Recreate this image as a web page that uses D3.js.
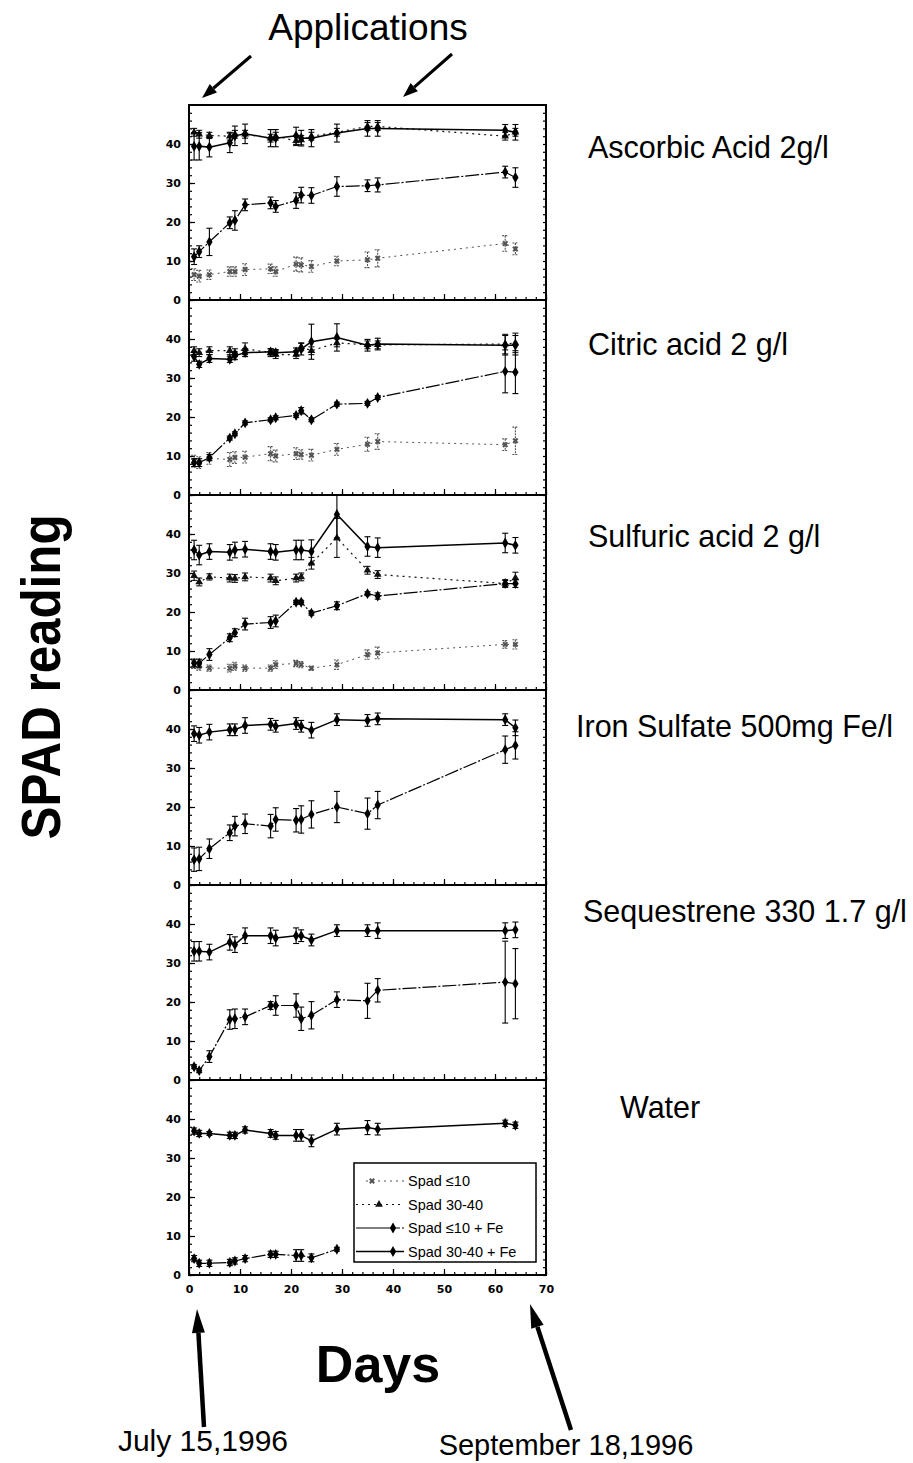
<!DOCTYPE html>
<html>
<head>
<meta charset="utf-8">
<script src="https://cdn.jsdelivr.net/npm/d3@7"></script>
<style>
  body { margin: 0; background: #fff; }
  svg { display: block; font-family: "Liberation Sans", Arial, sans-serif; }
  .axis text { font-family: "DejaVu Sans", sans-serif; font-weight: bold; font-size: 11px; fill: #000; }
  .axis line { stroke: #000; stroke-width: 1.2; }
  .axis path { display: none; }
</style>
</head>
<body>
<svg id="chart" width="913" height="1463"></svg>
<script>
// sampling days (days after July 15, 1996)
const days = [1, 2, 4, 8, 9, 11, 16, 17, 21, 22, 24, 29, 35, 37, 62, 64];

const panelTitles = ['Ascorbic Acid 2g/l', 'Citric acid 2 g/l', 'Sulfuric acid 2 g/l',
                     'Iron Sulfate 500mg Fe/l', 'Sequestrene 330 1.7 g/l', 'Water'];
const xTicks = [0, 10, 20, 30, 40, 50, 60, 70];
const yTicks = [0, 10, 20, 30, 40];
const legendLabels = ['Spad \u226410', 'Spad 30-40', 'Spad \u226410 + Fe', 'Spad 30-40 + Fe'];

// Ascorbic acid
const ascorbicLow      = [6.5, 6.1, 6.5, 7.3, 7.3, 7.8, 8.0, 7.3, 9.2, 9.0, 8.6, 10.0, 10.3, 10.7, 14.5, 13.1];
const ascorbicLowErr   = [1.5, 1.5, 1.2, 1.2, 1.2, 1.5, 1.2, 1.2, 1.8, 1.8, 1.5, 1.2, 2, 2.2, 2, 1.5];
const ascorbicHigh     = [43, 42.5, 42.2, 42, 42.5, 42.5, 41.5, 42, 40.8, 41, 42, 43, 44.5, 44.5, 42, 43];
const ascorbicHighErr  = [1, 1, 0.8, 1, 1, 1, 1, 1, 1.2, 1.2, 1, 1, 1, 1, 1, 1];
const ascorbicLowFe    = [11.1, 12.4, 14.9, 19.8, 20.4, 24.4, 24.9, 24.0, 25.5, 26.9, 26.8, 29.1, 29.3, 29.5, 32.8, 31.4];
const ascorbicLowFeErr = [2, 1.5, 3.5, 1.5, 2.5, 1.5, 1.5, 1.5, 2, 2, 2, 2.5, 1.5, 1.8, 1.5, 2.5];
const ascorbicHighFe   = [39.4, 39.4, 39.2, 40.3, 42.1, 42.6, 41.5, 41.5, 42.1, 41.5, 41.5, 42.8, 44, 44, 43.5, 43];
const ascorbicHighFeErr = [3.5, 3.5, 2.5, 2.5, 2.5, 2.5, 2.2, 2.2, 2.2, 2, 2.2, 2.3, 2, 2, 1.5, 2];

// Citric acid
const citricLow      = [8.7, 8.3, 9.4, 9.1, 9.6, 9.7, 10.6, 10.0, 10.6, 10.4, 10.2, 11.7, 13.0, 13.7, 12.9, 13.9];
const citricLowErr   = [1.5, 1.5, 1.5, 1.8, 1.5, 1.5, 1.8, 1.5, 1.5, 1.2, 1.5, 1.5, 1.8, 2, 1.5, 3.5];
const citricHigh     = [37, 36.5, 37, 37, 36.5, 37.5, 36.5, 36, 36, 38, 37, 39, 38.5, 38.5, 38.7, 39];
const citricHighErr  = [1, 1, 1, 1, 1, 1.5, 1, 1, 1, 1, 1, 1, 1, 1, 2.5, 2.5];
const citricLowFe    = [8.3, 8.3, 9.6, 14.6, 15.7, 18.5, 19.3, 19.8, 20.4, 21.6, 19.3, 23.3, 23.5, 25, 31.7, 31.5];
const citricLowFeErr = [1, 1, 0.8, 0.5, 0.5, 0.5, 0.5, 0.5, 0.5, 0.8, 0.5, 0.5, 0.5, 0.5, 5.5, 5.5];
const citricHighFe   = [35.5, 33.5, 35, 34.8, 35.7, 36.5, 36.7, 36.5, 36.7, 37.4, 39.3, 40.4, 38.4, 38.7, 38.4, 38.4];
const citricHighFeErr = [1.2, 0.8, 1, 0.8, 1, 1, 0.8, 0.8, 1, 1.5, 4.5, 3.5, 1.5, 1.5, 2.5, 2.5];

// Sulfuric acid
const sulfuricLow      = [6.5, 6.1, 5.6, 5.6, 6.1, 5.6, 5.6, 6.5, 6.8, 6.5, 5.6, 6.5, 9.1, 9.5, 11.7, 11.7];
const sulfuricLowErr   = [1, 1, 0.8, 1, 1, 0.8, 0.8, 1, 0.8, 0.8, 0.5, 1.2, 1.2, 1.5, 1, 1.2];
const sulfuricHigh     = [29.3, 27.7, 29, 28.7, 28.6, 29, 28.7, 28, 28.7, 29, 32.5, 39, 30.7, 29.6, 27.3, 28.7];
const sulfuricHighErr  = [1.2, 1, 0.8, 1, 1, 1, 1, 1, 1, 1, 1.5, 5, 1, 1, 1, 1.5];
const sulfuricLowFe    = [6.9, 6.9, 9.1, 13.4, 14.7, 16.9, 17.3, 17.7, 22.5, 22.5, 19.7, 21.6, 24.7, 24.1, 27.3, 27.3];
const sulfuricLowFeErr = [1, 1, 1.5, 1, 1, 1.5, 1.5, 1.5, 0.5, 0.5, 0.5, 1, 0.5, 0.8, 0.8, 1];
const sulfuricHighFe   = [35.9, 34.6, 35.5, 35.3, 35.9, 36.1, 35.5, 35.3, 35.9, 35.9, 35.5, 45, 36.8, 36.5, 37.7, 37.1];
const sulfuricHighFeErr = [2.5, 2.5, 2, 2, 2, 2, 2, 2, 2.5, 2.5, 3, 6, 2.5, 2.5, 2.5, 2];

// Iron sulfate
const ironLowFe    = [6.5, 6.7, 9.3, 13.4, 15.1, 15.7, 15.1, 16.8, 16.6, 16.8, 18.1, 20, 18.3, 20.5, 34.7, 35.8];
const ironLowFeErr = [3, 3, 2.5, 2, 2.5, 2.5, 3, 3, 3, 3.5, 3.5, 4, 4, 3.5, 3.5, 3.5];
const ironHighFe   = [38.8, 38.4, 39.2, 39.8, 39.8, 40.9, 41.2, 40.7, 41.4, 40.7, 39.7, 42.4, 42.2, 42.6, 42.4, 40.3];
const ironHighFeErr = [2, 2, 2, 1.5, 1.5, 2, 1.5, 1.5, 1.5, 1.5, 2, 1.5, 1.5, 1.5, 1.5, 2];

// Sequestrene 330
const seqLowFe    = [3.4, 2.4, 6, 15.5, 15.7, 16.2, 19.1, 19.1, 19.1, 15.7, 16.6, 20.6, 20.3, 23, 25.1, 24.7];
const seqLowFeErr = [0.5, 0.5, 1.5, 2.5, 2.5, 2, 1, 2.5, 3, 3, 3.5, 2, 4.5, 3, 10.5, 9];
const seqHighFe   = [33, 33, 32.8, 35.3, 34.7, 37, 37, 36.4, 37, 37, 35.9, 38.3, 38.3, 38.3, 38.3, 38.5];
const seqHighFeErr = [2.5, 2.5, 2, 2, 2, 2, 2, 2, 2, 1.5, 1.5, 1.5, 1.5, 2, 2, 2];

// Water
const waterLowFe    = [4.2, 3, 3, 3.2, 3.6, 4.2, 5.3, 5.3, 5, 5, 4.4, 6.6, null, null, null, null];
const waterLowFeErr = [0.8, 0.8, 0.8, 0.8, 0.8, 0.8, 0.8, 0.8, 1.5, 1.5, 1, 0.5, 0, 0, 0, 0];
const waterHighFe   = [36.9, 36.3, 36.3, 35.8, 35.8, 37.2, 36.3, 35.8, 35.8, 35.8, 34.4, 37.4, 37.8, 37.4, 38.9, 38.4];
const waterHighFeErr = [0.8, 0.8, 0.5, 0.8, 0.8, 0.8, 1, 1, 1.5, 1.5, 1.5, 1.5, 1.8, 1.5, 0.8, 0.8];

const panels = [
  { title: panelTitles[0], low: [ascorbicLow, ascorbicLowErr], high: [ascorbicHigh, ascorbicHighErr],
    lowFe: [ascorbicLowFe, ascorbicLowFeErr], highFe: [ascorbicHighFe, ascorbicHighFeErr] },
  { title: panelTitles[1], low: [citricLow, citricLowErr], high: [citricHigh, citricHighErr],
    lowFe: [citricLowFe, citricLowFeErr], highFe: [citricHighFe, citricHighFeErr] },
  { title: panelTitles[2], low: [sulfuricLow, sulfuricLowErr], high: [sulfuricHigh, sulfuricHighErr],
    lowFe: [sulfuricLowFe, sulfuricLowFeErr], highFe: [sulfuricHighFe, sulfuricHighFeErr] },
  { title: panelTitles[3], lowFe: [ironLowFe, ironLowFeErr], highFe: [ironHighFe, ironHighFeErr] },
  { title: panelTitles[4], lowFe: [seqLowFe, seqLowFeErr], highFe: [seqHighFe, seqHighFeErr] },
  { title: panelTitles[5], lowFe: [waterLowFe, waterLowFeErr], highFe: [waterHighFe, waterHighFeErr] }
];

const titlePos = [[588, 158], [588, 355], [588, 547], [576, 737], [583, 922], [620, 1118]];

const styles = {
  low:    { dash: '2,4', color: '#555', width: 1, symbol: 'x' },
  high:   { dash: '2,4', color: '#111', width: 1.2, symbol: 'tri' },
  lowFe:  { dash: '14,2,2,2', color: '#000', width: 1.2, symbol: 'dia' },
  highFe: { dash: null, color: '#000', width: 1.5, symbol: 'dia' }
};

const plotLeft = 189, plotRight = 546;
const panelTop = 105, panelHeight = 195;

const x = d3.scaleLinear([0, 70], [plotLeft, plotRight]);
const y = d3.scaleLinear([0, 50], [panelHeight, 0]);

const svg = d3.select('#chart');

function drawMarker(g, kind, cx, cy, color) {
  if (kind === 'x') {
    g.append('path')
     .attr('d', d3.symbol(d3.symbolCross, 22)())
     .attr('transform', `translate(${cx},${cy}) rotate(45)`)
     .attr('fill', color);
  } else if (kind === 'tri') {
    g.append('path')
     .attr('d', d3.symbol(d3.symbolTriangle, 26)())
     .attr('transform', `translate(${cx},${cy})`)
     .attr('fill', color);
  } else {
    g.append('path')
     .attr('d', d3.symbol(d3.symbolDiamond, 34)())
     .attr('transform', `translate(${cx},${cy})`)
     .attr('fill', color);
  }
}

function drawSeries(g, key, vals, errs) {
  let st = styles[key];
  let pts = days.map((d, i) => ({ day: d, v: vals[i], e: errs[i] }))
                .filter(p => p.v != null);

  let line = d3.line().x(p => x(p.day)).y(p => y(p.v));
  g.append('path')
   .datum(pts)
   .attr('d', line)
   .attr('fill', 'none')
   .attr('stroke', st.color)
   .attr('stroke-width', st.width)
   .attr('stroke-dasharray', st.dash);

  // error bars
  let bars = g.append('g')
              .attr('stroke', st.color)
              .attr('stroke-width', 1.1)
              .attr('stroke-dasharray', key === 'low' ? '2,1' : null);
  pts.forEach(p => {
    let top = Math.max(0, y(p.v + p.e)), bot = y(p.v - p.e);
    bars.append('line').attr('x1', x(p.day)).attr('x2', x(p.day)).attr('y1', top).attr('y2', bot);
    bars.append('line').attr('x1', x(p.day) - 3).attr('x2', x(p.day) + 3).attr('y1', top).attr('y2', top);
    bars.append('line').attr('x1', x(p.day) - 3).attr('x2', x(p.day) + 3).attr('y1', bot).attr('y2', bot);
  });

  pts.forEach(p => drawMarker(g, st.symbol, x(p.day), y(p.v), st.color));
}

panels.forEach((panel, i) => {
  let g = svg.append('g')
             .attr('transform', `translate(0,${panelTop + i * panelHeight})`);

  // minor and major ticks, inward
  g.append('g')
   .attr('class', 'axis')
   .attr('transform', `translate(${plotLeft},0)`)
   .call(d3.axisLeft(y).tickValues(d3.range(0, 50, 2)).tickSize(-3).tickFormat(''));
  g.append('g')
   .attr('class', 'axis')
   .attr('transform', `translate(${plotLeft},0)`)
   .call(d3.axisLeft(y).tickValues(yTicks).tickSize(-6).tickPadding(8));
  g.append('g')
   .attr('class', 'axis')
   .attr('transform', `translate(${plotRight},0)`)
   .call(d3.axisRight(y).tickValues(d3.range(0, 50, 2)).tickSize(-3).tickFormat(''));
  g.append('g')
   .attr('class', 'axis')
   .attr('transform', `translate(0,${panelHeight})`)
   .call(d3.axisBottom(x).tickValues(d3.range(0, 71, 2)).tickSize(-3).tickFormat(''));
  g.append('g')
   .attr('class', 'axis')
   .attr('transform', `translate(0,${panelHeight})`)
   .call(d3.axisBottom(x).tickValues(xTicks).tickSize(-6).tickPadding(10)
                         .tickFormat(i === panels.length - 1 ? d3.format('d') : ''));

  let clipId = 'clip' + i;
  g.append('clipPath').attr('id', clipId)
   .append('rect').attr('x', plotLeft).attr('y', 0)
   .attr('width', plotRight - plotLeft).attr('height', panelHeight);

  let plot = g.append('g').attr('clip-path', `url(#${clipId})`);
  ['low', 'high', 'lowFe', 'highFe'].forEach(key => {
    if (panel[key]) drawSeries(plot, key, panel[key][0], panel[key][1]);
  });

  g.append('rect')
   .attr('x', plotLeft).attr('y', 0)
   .attr('width', plotRight - plotLeft).attr('height', panelHeight)
   .attr('fill', 'none').attr('stroke', '#000').attr('stroke-width', 2);

  svg.append('text')
     .attr('x', titlePos[i][0]).attr('y', titlePos[i][1])
     .attr('font-size', 30.5)
     .text(panel.title);
});

// legend in the water panel
const legend = svg.append('g').attr('transform', 'translate(354,1163)');
legend.append('rect')
      .attr('width', 182).attr('height', 99)
      .attr('fill', '#fff').attr('stroke', '#000').attr('stroke-width', 1.5);
const legendKeys = ['low', 'high', 'lowFe', 'highFe'];
legendKeys.forEach((key, i) => {
  let st = styles[key];
  let cy = 18 + i * 23.5;
  if (key === 'lowFe') {
    legend.append('line').attr('x1', 2).attr('x2', 38).attr('y1', cy).attr('y2', cy)
          .attr('stroke', '#000').attr('stroke-width', 1.2);
    legend.append('line').attr('x1', 42).attr('x2', 50).attr('y1', cy).attr('y2', cy)
          .attr('stroke', '#000').attr('stroke-width', 1.2).attr('stroke-dasharray', '4,2');
  } else {
    legend.append('line').attr('x1', key === 'low' ? 12 : 2).attr('x2', 50).attr('y1', cy).attr('y2', cy)
          .attr('stroke', st.color).attr('stroke-width', st.width)
          .attr('stroke-dasharray', st.dash);
  }
  let mx = key === 'low' ? 18 : key === 'high' ? 25 : 39;
  drawMarker(legend, st.symbol, mx, cy, st.color);
  legend.append('text')
        .attr('x', 54).attr('y', cy + 5)
        .attr('font-size', 14.5)
        .text(legendLabels[i]);
});

// annotations
function arrow(x1, y1, x2, y2, w, headLen, headW) {
  let a = Math.atan2(y2 - y1, x2 - x1);
  let bx = x2 - headLen * Math.cos(a), by = y2 - headLen * Math.sin(a);
  svg.append('line')
     .attr('x1', x1).attr('y1', y1).attr('x2', bx).attr('y2', by)
     .attr('stroke', '#000').attr('stroke-width', w);
  let px = Math.sin(a) * headW / 2, py = -Math.cos(a) * headW / 2;
  svg.append('path')
     .attr('d', `M${x2},${y2}L${bx + px},${by + py}L${bx - px},${by - py}Z`)
     .attr('fill', '#000');
}

svg.append('text')
   .attr('x', 368).attr('y', 40)
   .attr('text-anchor', 'middle')
   .attr('font-size', 37)
   .text('Applications');
arrow(251, 56, 202, 98, 3, 15, 11);
arrow(452, 54, 403, 97, 3, 15, 11);

svg.append('text')
   .attr('transform', 'translate(60,677) rotate(-90)')
   .attr('text-anchor', 'middle')
   .attr('font-size', 56)
   .attr('font-weight', 'bold')
   .attr('textLength', 325)
   .attr('lengthAdjust', 'spacingAndGlyphs')
   .text('SPAD reading');

svg.append('text')
   .attr('x', 378).attr('y', 1382)
   .attr('text-anchor', 'middle')
   .attr('font-size', 52)
   .attr('font-weight', 'bold')
   .text('Days');

arrow(204, 1427, 197, 1309, 4.5, 24, 13);
arrow(571, 1430, 530, 1304, 4.5, 24, 13);

svg.append('text')
   .attr('x', 203).attr('y', 1451)
   .attr('text-anchor', 'middle')
   .attr('font-size', 30)
   .text('July 15,1996');
svg.append('text')
   .attr('x', 566).attr('y', 1455)
   .attr('text-anchor', 'middle')
   .attr('font-size', 29)
   .text('September 18,1996');
</script>
</body>
</html>
